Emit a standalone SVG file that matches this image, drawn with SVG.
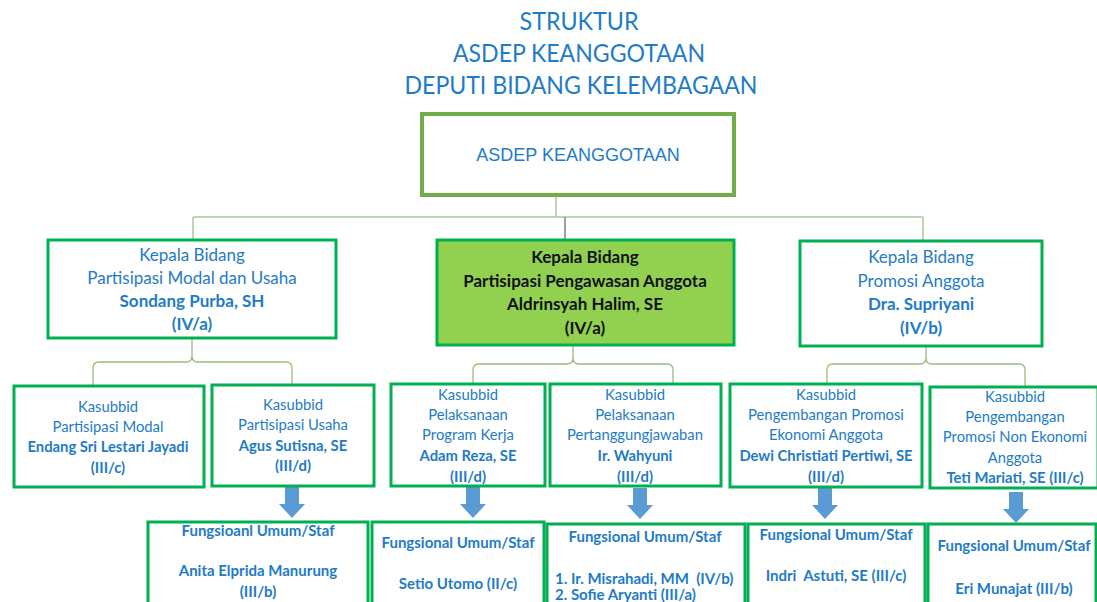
<svg xmlns="http://www.w3.org/2000/svg" width="1097" height="602" viewBox="0 0 1097 602">
<style>
.t{font-family:Lato,"Open Sans",sans-serif;fill:#1E7BC8;text-anchor:middle}
.ti{font-size:25px}
.l2{font-size:17px}
.l3{font-size:14.8px}
.l4{font-size:15px;font-weight:bold}
.b{font-weight:bold}
.k{fill:#111}
.box{fill:#fff;stroke:#00B050;stroke-width:3}
.br{fill:none;stroke:#9BBB7A;stroke-width:1.3}
.arr{fill:#5B9BD5}
</style>
<defs>
<path id="ar" d="M-7,0 H7 V17 H13 L0,31 L-13,17 H-7 Z"/>
</defs>
<g id="title">
<text class="t ti" x="579" y="30" textLength="119" lengthAdjust="spacingAndGlyphs">STRUKTUR</text>
<text class="t ti" x="579" y="62" textLength="252" lengthAdjust="spacingAndGlyphs">ASDEP KEANGGOTAAN</text>
<text class="t ti" x="581" y="94" textLength="353" lengthAdjust="spacingAndGlyphs">DEPUTI BIDANG KELEMBAGAAN</text>
</g>
<g id="connectors">
<path d="M556,195 V217 M193,217 H923 M193,217 V240 M923,217 V240" fill="none" stroke="#A9C89A" stroke-width="1.5"/>
<path d="M565,217 V240" stroke="#808080" stroke-width="1.5"/>
<path class="br" d="M192,338 V356 Q192,362 186,362 H99 Q93,362 93,368 V385 M192,356 Q192,362 198,362 H286 Q292,362 292,368 V385"/>
<path class="br" d="M573,346 V358 Q573,364 567,364 H479 Q473,364 473,370 V384 M573,358 Q573,364 579,364 H667 Q673,364 673,370 V384"/>
<path class="br" d="M926,346 V358 Q926,364 920,364 H833 Q827,364 827,370 V384 M926,358 Q926,364 932,364 H1019 Q1025,364 1025,370 V387"/>
<use href="#ar" class="arr" x="292" y="487"/>
<use href="#ar" class="arr" x="473" y="487"/>
<use href="#ar" class="arr" x="640" y="488"/>
<use href="#ar" class="arr" x="825" y="488"/>
<use href="#ar" class="arr" x="1016" y="492"/>
</g>
<g id="top">
<rect x="422" y="114" width="312" height="81" fill="#fff" stroke="#70AD47" stroke-width="4"/>
<text x="578" y="161" font-family="Liberation Sans,Arial,sans-serif" font-size="18" fill="#1E7BC8" text-anchor="middle">ASDEP KEANGGOTAAN</text>
</g>
<g id="kb1">
<rect class="box" x="48" y="240" width="288" height="98"/>
<text class="t l2" x="192" y="261">Kepala Bidang</text>
<text class="t l2" x="192" y="284">Partisipasi Modal dan Usaha</text>
<text class="t l2 b" x="192" y="307">Sondang Purba, SH</text>
<text class="t l2 b" x="192" y="330">(IV/a)</text>
</g>
<g id="kb2">
<rect x="437" y="240" width="297" height="105" fill="#92D050" stroke="#00B050" stroke-width="3"/>
<text class="t l2 b k" x="585" y="263">Kepala Bidang</text>
<text class="t l2 b k" x="585" y="287">Partisipasi Pengawasan Anggota</text>
<text class="t l2 b k" x="585" y="310">Aldrinsyah Halim, SE</text>
<text class="t l2 b k" x="585" y="334">(IV/a)</text>
</g>
<g id="kb3">
<rect class="box" x="800" y="241" width="242" height="105"/>
<text class="t l2" x="921" y="263">Kepala Bidang</text>
<text class="t l2" x="921" y="287">Promosi Anggota</text>
<text class="t l2 b" x="921" y="310">Dra. Supriyani</text>
<text class="t l2 b" x="921" y="334">(IV/b)</text>
</g>
<g id="ks1">
<rect class="box" x="14" y="386" width="190" height="101"/>
<text class="t l3" x="108" y="412">Kasubbid</text>
<text class="t l3" x="108" y="432">Partisipasi Modal</text>
<text class="t l3 b" x="108" y="452">Endang Sri Lestari Jayadi</text>
<text class="t l3 b" x="108" y="473">(III/c)</text>
</g>
<g id="ks2">
<rect class="box" x="212" y="385" width="162" height="101"/>
<text class="t l3" x="293" y="410">Kasubbid</text>
<text class="t l3" x="293" y="430">Partisipasi Usaha</text>
<text class="t l3 b" x="293" y="451">Agus Sutisna, SE</text>
<text class="t l3 b" x="293" y="471">(III/d)</text>
</g>
<g id="ks3">
<rect class="box" x="391" y="384" width="154" height="102"/>
<text class="t l3" x="468" y="400">Kasubbid</text>
<text class="t l3" x="468" y="420">Pelaksanaan</text>
<text class="t l3" x="468" y="440">Program Kerja</text>
<text class="t l3 b" x="468" y="461">Adam Reza, SE</text>
<text class="t l3 b" x="468" y="482">(III/d)</text>
</g>
<g id="ks4">
<rect class="box" x="550" y="384" width="171" height="102"/>
<text class="t l3" x="635" y="400">Kasubbid</text>
<text class="t l3" x="635" y="420">Pelaksanaan</text>
<text class="t l3" x="635" y="440">Pertanggungjawaban</text>
<text class="t l3 b" x="635" y="461">Ir. Wahyuni</text>
<text class="t l3 b" x="635" y="482">(III/d)</text>
</g>
<g id="ks5">
<rect class="box" x="730" y="384" width="192" height="103"/>
<text class="t l3" x="826" y="400">Kasubbid</text>
<text class="t l3" x="826" y="420">Pengembangan Promosi</text>
<text class="t l3" x="826" y="440">Ekonomi Anggota</text>
<text class="t l3 b" x="826" y="461">Dewi Christiati Pertiwi, SE</text>
<text class="t l3 b" x="826" y="482">(III/d)</text>
</g>
<g id="ks6">
<rect class="box" x="930" y="387" width="168" height="101"/>
<text class="t l3" x="1015" y="402">Kasubbid</text>
<text class="t l3" x="1015" y="422">Pengembangan</text>
<text class="t l3" x="1015" y="442">Promosi Non Ekonomi</text>
<text class="t l3" x="1015" y="463">Anggota</text>
<text class="t l3 b" x="1015" y="483">Teti Mariati, SE (III/c)</text>
</g>
<g id="st1">
<rect class="box" x="148" y="522" width="220" height="90"/>
<text class="t l4" x="258" y="536">Fungsioanl Umum/Staf</text>
<text class="t l4" x="258" y="576">Anita Elprida Manurung</text>
<text class="t l4" x="258" y="597">(III/b)</text>
</g>
<g id="st2">
<rect class="box" x="372" y="522" width="172" height="90"/>
<text class="t l4" x="458" y="548">Fungsional Umum/Staf</text>
<text class="t l4" x="458" y="589">Setio Utomo (II/c)</text>
</g>
<g id="st3">
<rect class="box" x="547" y="524" width="198" height="90"/>
<text class="t l4" x="645" y="542">Fungsional Umum/Staf</text>
<text class="t l4" x="555" y="584" style="text-anchor:start" xml:space="preserve">1. Ir. Misrahadi, MM  (IV/b)</text>
<text class="t l4" x="555" y="600" style="text-anchor:start">2. Sofie Aryanti (III/a)</text>
</g>
<g id="st4">
<rect class="box" x="748" y="524" width="177" height="90"/>
<text class="t l4" x="836" y="540">Fungsional Umum/Staf</text>
<text class="t l4" x="836" y="581" xml:space="preserve">Indri  Astuti, SE (III/c)</text>
</g>
<g id="st5">
<rect class="box" x="928" y="524" width="168" height="90"/>
<text class="t l4" x="1014" y="551">Fungsional Umum/Staf</text>
<text class="t l4" x="1014" y="594">Eri Munajat (III/b)</text>
</g>
</svg>
